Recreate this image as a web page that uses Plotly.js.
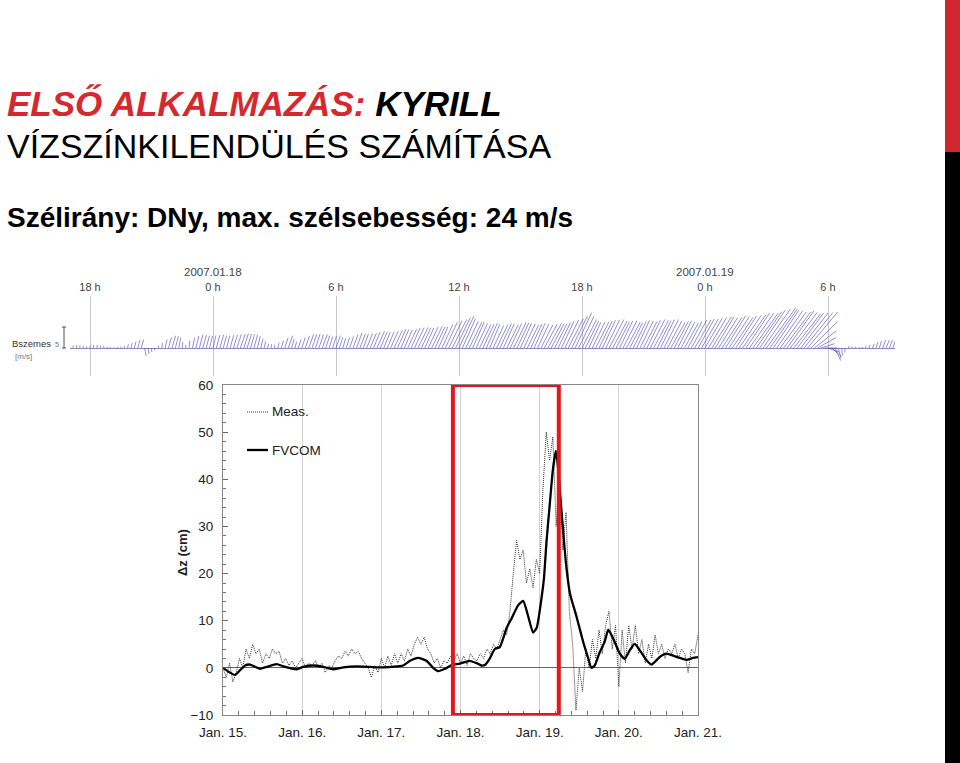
<!DOCTYPE html>
<html><head><meta charset="utf-8">
<script src="https://cdn.plot.ly/plotly-3.0.1.min.js"></script>
<style>html,body{margin:0;padding:0;background:#fff;overflow:hidden}#chart{width:960px;height:763px}</style>
</head><body><div id="chart"></div>
<script>
// ---------- DATA ----------
// Water level, hourly from 2007-01-15 00:00 (hours)
const measStartHour = 0;
const measValues = [0,-2,1,-3,-1,2,0,4,2,5,3,4,1,3,2,4,3,3.5,1,2,0.5,1.5,0,1,
 2,0,1,0.5,1.5,0,1,-1,0.5,0,1.5,2.5,2,3.5,2.5,4,3,3.5,2,1,0,-2,0.5,-1,
 2,0,2.5,0.5,3,1,3,1.5,4,2.5,5,6.5,5,6.5,4,3,1,2,0,1.5,1,2.5,1.5,3,
 1,2.5,0.5,3,2,1.5,3,2,4,3,5,4,6,8,7,12,20,27,23,25,18,21,17,23,
 20,38,50,44,49,30,42,25,33,12,5,-9,0,-5,4,0,6,2,8,3,9,12,4,9,
 -4,8,1,9,4,9,3,6,1,5,2,7,3,5,2,4,3,5,2,4,3,-1,4,3,7];
const fvcomHours = [0.1,1.6,3.6,5.2,6.7,8.2,11.2,13.2,16.3,18.3,22.3,24.3,27.4,30.4,33.4,36.5,40.5,44.5,48.6,52.6,
 54.6,56.7,59.2,61.7,63.7,65.2,67.3,69.3,71.8,74.8,76.9,78.4,79.4,80.9,82.4,83.9,86.0,87.5,89.5,91.0,
 92.5,94.0,95.1,96.6,97.3,98.1,99.1,100.0,100.9,101.5,102.1,103.0,104.0,105.2,107.2,109.2,110.6,111.7,112.7,114.2,
 115.7,116.8,118.3,120.3,121.8,123.3,124.8,126.4,128.4,129.9,132.4,134.4,136.5,138.5,140.5,142.5,144];
const fvcomValues = [0,-0.8,-1.5,-0.5,0.5,0.7,-0.2,0.2,0.8,0.3,-0.3,0.2,0.5,0.2,-0.3,0.1,0.3,0.2,0.1,0.3,
 0.5,1.5,2.1,1.5,0,-0.7,-0.2,0.6,0.9,1.5,1.0,0.5,0.6,2.0,4.0,4.4,8.5,10.5,13.3,14.2,
 11,7.5,8.5,15,19,27,35,42,46,43,37.7,30,22,15.7,10.8,5.5,2.3,0,0.5,3.3,
 5.5,8.1,6.2,3.0,1.9,3.7,5.1,3.7,1.6,0.7,2.3,3.0,2.6,2.1,1.7,2.1,2.3];
const dayTicks = [0,24,48,72,96,120,144];
const dayLabels = ["Jan. 15.","Jan. 16.","Jan. 17.","Jan. 18.","Jan. 19.","Jan. 20.","Jan. 21."];
const yTicks = [-10,0,10,20,30,40,50,60];
const highlightHours = [69.7, 101.8];

// Wind (Bszemes), every 10 minutes from 2007-01-17 17:00 (hours since 2007-01-17 00:00)
const windStartHour = 17;
const windStepHours = 1/6;
const windSpeed = [
 1.0,1.2,1.5,1.3,1.0,0.8,1.0,1.4,1.5,1.2,1.0,0.7,0.5,0.4,0.5,0.8,1.0,1.8,2.4,3.2,3.9,4.2,
 3.9,3.0,1.9,1.2,
 1.0,2.5,
 4.1,5.2,6.1,5.8,5.1,3.0,1.5,3.5,5.1,6.0,6.6,6.4,6.1,5.9,6.1,6.4,6.6,6.3,6.1,6.5,6.6,6.9,7.1,7.3,7.1,6.9,6.6,5.8,4.6,3.2,
 2.1,1.8,1.6,2.6,3.7,5.2,6.3,4.5,3.2,4.2,5.3,6.2,6.9,7.0,6.9,6.7,6.9,6.3,5.8,6.0,6.3,5.5,4.8,5.2,5.8,6.8,
 7.7,7.4,7.2,7.5,7.7,8.3,8.8,8.5,8.3,8.6,8.8,9.4,9.9,9.6,9.4,10.0,10.5,10.8,11.0,10.7,10.5,11.1,11.6,11.3,11.0,12.3,
 13.6,14.5,15.3,16.2,16.9,15.4,14.1,13.8,13.6,13.0,12.4,12.7,13.0,12.4,11.9,12.5,13.0,12.7,12.4,13.0,
 13.6,13.3,13.0,12.7,12.4,12.7,13.0,12.7,12.4,13.0,13.6,13.3,13.0,13.5,14.1,15.0,15.8,17.2,18.6,17.0,
 15.3,14.4,13.6,13.9,14.1,14.4,14.7,15.0,15.3,14.7,14.1,14.4,14.7,14.1,13.6,14.2,14.7,14.4,14.1,14.7,
 15.3,15.0,14.7,15.0,15.3,14.7,14.1,14.4,14.7,14.1,13.6,14.4,15.3,15.6,15.8,16.1,
 16.4,17.0,17.6,17.3,17.0,17.6,18.2,17.9,17.6,18.2,18.8,19.5,20.1,20.4,20.7,21.3,21.9,22.8,23.7,22.8,
 21.9,21.6,21.3,21.6,21.9,21.3,20.7,21.0,21.3,21.9,
 22.5,18.0,13.4,10.0,6.7,6.2,5.7,6.2,6.7,5.2,3.8,2.2,
 1.0,0.7,0.5,0.5,0.5,1.0,1.5,2.2,3.0,3.5,4.0,4.0,4.0,3.8,3.5];
const windFrom = [
 185,188,190,186,188,185,183,186,190,188,185,188,186,185,187,190,190,192,193,194,195,196,
 350,352,355,10,
 185,188,
 192,195,196,194,190,185,180,186,192,194,195,196,195,194,193,195,196,195,194,196,197,198,199,198,197,196,195,194,193,192,
 192,190,188,192,196,198,200,196,194,197,198,199,200,199,198,199,200,198,197,198,199,197,196,198,199,200,
 200,201,200,202,203,202,204,203,202,203,204,205,204,203,204,205,204,205,206,205,204,205,206,205,204,205,
 205,206,207,206,205,204,205,206,204,205,206,205,204,203,205,206,205,204,206,205,
 206,205,204,205,206,205,204,205,207,208,209,208,207,206,205,206,207,206,205,206,
 207,206,205,206,207,206,205,206,207,208,207,206,207,208,207,206,205,206,207,206,
 207,208,207,206,207,208,209,208,207,208,209,208,209,210,209,210,
 210,211,212,211,212,213,212,213,214,213,214,215,214,215,216,215,214,215,216,215,
 214,215,216,217,216,217,218,217,218,219,
 220,225,232,240,252,270,290,310,335,345,355,5,
 200,195,190,195,200,198,200,202,200,198,200,202,200,198,200];
const windTickHours = [18,24,30,36,42,48,54];
const windTickLabels = ["18 h","0 h","6 h","12 h","18 h","0 h","6 h"];
const windDateHours = [24,48];
const windDateLabels = ["2007.01.18","2007.01.19"];

// ---------- LAYOUT HELPERS ----------
const W = 960, H = 763;
const px = p => p / W;
const py = p => 1 - p / H;
const FONT = 'Liberation Sans, Arial, sans-serif';
const NARROW = 'Liberation Sans Narrow, Liberation Sans, Arial, sans-serif';

const windXDomPx = [70, 895], windXRange = [17.024, 57.268];
const windYDomPx = [296, 376], windYRange = [-13.42, 24.92];
const xPxPerHour = (windXDomPx[1] - windXDomPx[0]) / (windXRange[1] - windXRange[0]);
const yPxPerUnit = (windYDomPx[1] - windYDomPx[0]) / (windYRange[1] - windYRange[0]);
const hoursPerUnit = yPxPerUnit / xPxPerHour;

const measHours = measValues.map((_, i) => measStartHour + i);

const sx = [], sy = [];
windSpeed.forEach((s, i) => {
  const t = windStartHour + i * windStepHours;
  const th = (windFrom[i] + 180) * Math.PI / 180;
  sx.push(t, t + s * Math.sin(th) * hoursPerUnit, null);
  sy.push(0, s * Math.cos(th), null);
});

const traces = [
  {x: measHours, y: measValues, type: 'scatter', mode: 'lines', name: 'Meas.',
   line: {color: '#333', width: 1, dash: '1px,1px'}, xaxis: 'x', yaxis: 'y', hoverinfo: 'skip'},
  {x: fvcomHours, y: fvcomValues, type: 'scatter', mode: 'lines', name: 'FVCOM',
   line: {color: '#000', width: 2.3, shape: 'spline', smoothing: 0.5}, xaxis: 'x', yaxis: 'y', hoverinfo: 'skip'},
  {x: sx, y: sy, type: 'scatter', mode: 'lines', name: 'wind',
   line: {color: 'rgba(70,70,175,0.6)', width: 1}, xaxis: 'x2', yaxis: 'y2', hoverinfo: 'skip'}
];

const annotations = [
  {xref: 'paper', yref: 'paper', x: px(5), y: py(103), xanchor: 'left', yanchor: 'middle', showarrow: false,
   text: "<b><i>ELSŐ ALKALMAZÁS: <span style='color:#000'>KYRILL</span></i></b>",
   font: {family: FONT, size: 35, color: '#d3292f'}},
  {xref: 'paper', yref: 'paper', x: px(5), y: py(146), xanchor: 'left', yanchor: 'middle', showarrow: false,
   text: "VÍZSZÍNKILENDÜLÉS SZÁMÍTÁSA", font: {family: FONT, size: 34, color: '#000'}},
  {xref: 'paper', yref: 'paper', x: px(5), y: py(217), xanchor: 'left', yanchor: 'middle', showarrow: false,
   text: "<b>Szélirány: DNy, max. szélsebesség: 24 m/s</b>", font: {family: FONT, size: 28, color: '#000'}},
  {xref: 'paper', yref: 'paper', x: px(10), y: py(343), xanchor: 'left', yanchor: 'middle', showarrow: false,
   text: "Bszemes", font: {family: FONT, size: 9.5, color: '#333'}},
  {xref: 'paper', yref: 'paper', x: px(53), y: py(344), xanchor: 'left', yanchor: 'middle', showarrow: false,
   text: "5", font: {family: FONT, size: 7.5, color: '#777'}},
  {xref: 'paper', yref: 'paper', x: px(13), y: py(356), xanchor: 'left', yanchor: 'middle', showarrow: false,
   text: "[m/s]", font: {family: FONT, size: 8, color: '#777'}},
  {xref: 'paper', yref: 'paper', x: px(182), y: py(553), xanchor: 'center', yanchor: 'middle', showarrow: false,
   textangle: -90, text: "<b>Δz (cm)</b>", font: {family: FONT, size: 13, color: '#222'}},
  {xref: 'paper', yref: 'paper', x: px(270), y: py(412), xanchor: 'left', yanchor: 'middle', showarrow: false,
   text: "Meas.", font: {family: FONT, size: 13.5, color: '#222'}},
  {xref: 'paper', yref: 'paper', x: px(270), y: py(450), xanchor: 'left', yanchor: 'middle', showarrow: false,
   text: "FVCOM", font: {family: FONT, size: 13.5, color: '#222'}}
];
windDateHours.forEach((h, i) => annotations.push({
  xref: 'x2', yref: 'paper', x: h, y: py(272), xanchor: 'center', yanchor: 'middle', showarrow: false,
  text: windDateLabels[i], font: {family: NARROW, size: 11.5, color: '#444'}}));

const shapes = [
  {type: 'rect', xref: 'x', yref: 'y', x0: highlightHours[0], x1: highlightHours[1], y0: -10, y1: 60,
   line: {color: '#e8141b', width: 4}, fillcolor: 'rgba(0,0,0,0)'},
  {type: 'line', xref: 'paper', yref: 'paper', x0: px(247), x1: px(268), y0: py(412), y1: py(412),
   line: {color: '#333', width: 1, dash: '1px,1px'}},
  {type: 'line', xref: 'paper', yref: 'paper', x0: px(247), x1: px(268), y0: py(450), y1: py(450),
   line: {color: '#000', width: 2.3}},
  {type: 'line', xref: 'paper', yref: 'paper', x0: px(64), x1: px(64), y0: py(327), y1: py(348),
   line: {color: '#555', width: 1}},
  {type: 'line', xref: 'paper', yref: 'paper', x0: px(62), x1: px(66), y0: py(327), y1: py(327),
   line: {color: '#555', width: 1}},
  {type: 'line', xref: 'paper', yref: 'paper', x0: px(62), x1: px(66), y0: py(348), y1: py(348),
   line: {color: '#555', width: 1}},
  {type: 'rect', xref: 'paper', yref: 'paper', x0: px(945), x1: 1, y0: py(152), y1: 1,
   line: {width: 0}, fillcolor: '#d0282e'},
  {type: 'rect', xref: 'paper', yref: 'paper', x0: px(945), x1: 1, y0: 0, y1: py(152),
   line: {width: 0}, fillcolor: '#000'}
];

const layout = {
  width: W, height: H, margin: {l: 0, r: 0, t: 0, b: 0},
  paper_bgcolor: '#fff', plot_bgcolor: 'rgba(0,0,0,0)', showlegend: false,
  font: {family: FONT, color: '#222'},
  xaxis: {domain: [px(223), px(698)], range: [0, 144], anchor: 'y',
    tickmode: 'array', tickvals: dayTicks, ticktext: dayLabels, ticks: 'inside', ticklen: 5, tickcolor: '#666',
    tickfont: {family: FONT, size: 13.5, color: '#222'}, ticklabelstandoff: 5,
    showgrid: true, gridcolor: '#d2d2d2', gridwidth: 1, zeroline: false,
    showline: true, linecolor: '#888', linewidth: 1, mirror: true,
    minor: {tickmode: 'linear', tick0: 0, dtick: 4.8, ticks: 'inside', ticklen: 4, tickcolor: '#777', showgrid: false}},
  yaxis: {domain: [py(715), py(385)], range: [-10, 60], anchor: 'x',
    tickmode: 'array', tickvals: yTicks, ticks: 'inside', ticklen: 5, tickcolor: '#666',
    tickfont: {family: FONT, size: 13.5, color: '#222'}, ticklabelstandoff: 6,
    showgrid: false, zeroline: true, zerolinecolor: '#666', zerolinewidth: 1,
    showline: true, linecolor: '#888', linewidth: 1, mirror: true,
    minor: {tickmode: 'linear', tick0: 0, dtick: 2, ticks: 'inside', ticklen: 3, tickcolor: '#777', showgrid: false}},
  xaxis2: {domain: [px(windXDomPx[0]), px(windXDomPx[1])], range: windXRange, anchor: 'y2', side: 'top',
    tickmode: 'array', tickvals: windTickHours, ticktext: windTickLabels, ticks: '',
    tickfont: {family: NARROW, size: 11, color: '#444'}, ticklabelstandoff: 2,
    showgrid: true, gridcolor: '#c8c8c8', gridwidth: 1, zeroline: false, showline: false},
  yaxis2: {domain: [py(windYDomPx[1]), py(windYDomPx[0])], range: windYRange, anchor: 'x2',
    showticklabels: false, ticks: '', showgrid: false, showline: false,
    zeroline: true, zerolinecolor: '#8a8ab8', zerolinewidth: 1},
  annotations: annotations, shapes: shapes
};

Plotly.newPlot('chart', traces, layout, {staticPlot: true, displayModeBar: false});
</script>
</body></html>
